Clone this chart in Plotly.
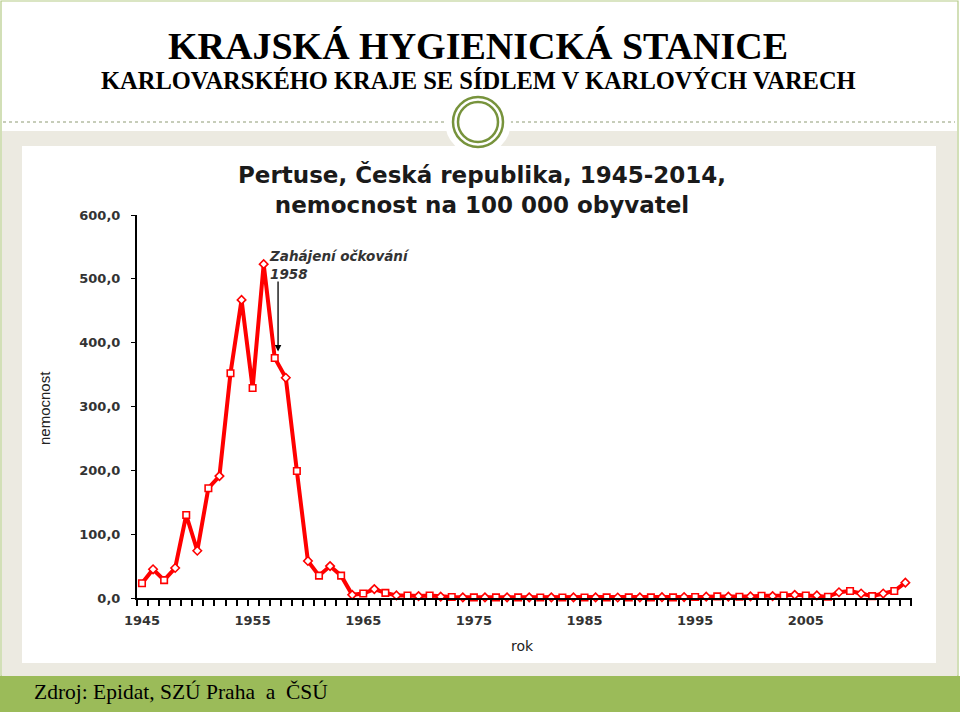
import plotly.graph_objects as go

# Pertuse, Ceska republika - nemocnost na 100 000 obyvatel
years = list(range(1945, 2015))
incidence = [
    23, 45, 28, 47, 130, 74, 172, 191, 352, 467,      # 1945-1954
    329, 523, 376, 345, 199, 58, 35, 50, 35, 5,        # 1955-1964
    7, 14, 8, 4, 4, 3, 4, 2, 1.5, 1,                   # 1965-1974
    1, 1, 1, 1, 1, 1, 0.8, 1, 0.8, 1,                  # 1975-1984
    0.8, 1, 1, 0.8, 1, 1, 1, 1.2, 1, 1.5,              # 1985-1994
    1.5, 2, 2.5, 2, 2, 2.5, 3.5, 3, 4, 5,              # 1995-2004
    4, 4, 2, 9, 11, 7, 3, 7, 11, 24,                   # 2005-2014
]
y_ticks = [0, 100, 200, 300, 400, 500, 600]
x_ticks = [1945, 1955, 1965, 1975, 1985, 1995, 2005]

W, H = 960, 712


def px(x):
    return x / W


def py(y):
    return 1 - y / H


symbols = ["square" if i % 2 == 0 else "diamond" for i in range(len(years))]

fig = go.Figure()
fig.add_trace(go.Scatter(
    x=years, y=incidence, mode="lines+markers",
    line=dict(color="#FF0000", width=4),
    marker=dict(symbol=symbols, size=6.5, color="white",
                line=dict(color="#FF0000", width=1.6)),
    showlegend=False, cliponaxis=False,
))


def box(x0, y0, x1, y1, **kw):
    return dict(type="rect", xref="paper", yref="paper", layer="below",
                x0=px(x0), x1=px(x1), y0=py(y1), y1=py(y0), **kw)


def ring(cx, cy, r, **kw):
    return dict(type="circle", xref="paper", yref="paper", layer="below",
                x0=px(cx - r), x1=px(cx + r), y0=py(cy + r), y1=py(cy - r), **kw)


def hline(x0, x1, y, **kw):
    return dict(type="line", xref="paper", yref="paper", layer="below",
                x0=px(x0), x1=px(x1), y0=py(y), y1=py(y), **kw)


shapes = [
    # top white area with thin green frame
    box(1, 1, 958, 676, line=dict(color="#B5CB88", width=1.2), fillcolor="white"),
    # beige area
    box(2, 131, 957, 676, line=dict(width=0), fillcolor="#ECEAE1"),
    # white picture panel
    box(22, 146, 936, 663, line=dict(width=0), fillcolor="white"),
    # green footer
    box(0, 676, 960, 712, line=dict(width=0), fillcolor="#9BBB59"),
    # dotted separator
    hline(3, 446, 122, line=dict(color="#8E9B74", width=1, dash="dot")),
    hline(510, 955, 122, line=dict(color="#8E9B74", width=1, dash="dot")),
    # circle ornament
    ring(478, 122, 33, line=dict(width=0), fillcolor="white"),
    ring(478, 122, 25, line=dict(color="#77933C", width=2.5), fillcolor="white"),
    ring(478, 122, 20, line=dict(color="#77933C", width=2.5)),
]


def label(text, x, y, size, family, color="black", **kw):
    d = dict(text=text, x=px(x), y=py(y), xref="paper", yref="paper",
             showarrow=False, xanchor="center", yanchor="middle",
             font=dict(family=family, size=size, color=color))
    d.update(kw)
    return d


annotations = [
    label("<b>KRAJSKÁ HYGIENICKÁ STANICE</b>", 478, 46, 38, "Liberation Serif"),
    label("<b>KARLOVARSKÉHO KRAJE SE SÍDLEM V KARLOVÝCH VARECH</b>", 478, 80, 24.5,
          "Liberation Serif"),
    label("<b>Pertuse, Česká republika, 1945-2014,<br>nemocnost na 100 000 obyvatel</b>",
          482, 190, 23, "DejaVu Sans", "#1a1a1a"),
    label("<b><i>Zahájení očkování<br>1958</i></b>", 267, 246, 13.5, "DejaVu Sans", "#333333",
          xanchor="left", yanchor="top", align="left"),
    dict(x=1957.3, y=386, ax=1957.3, ay=498, xref="x", yref="y", axref="x", ayref="y",
         text="", showarrow=True, arrowhead=2, arrowsize=1, arrowwidth=1.3,
         arrowcolor="black"),
    label("nemocnost", 45, 408, 15, "Liberation Sans", "#222222", textangle=-90),
    label("rok", 522, 646, 14, "DejaVu Sans", "#222222"),
    label("Zdroj: Epidat, SZÚ Praha\u00a0\u00a0a\u00a0\u00a0ČSÚ", 32, 692, 21.5,
          "Liberation Serif", xanchor="left"),
]

fig.update_layout(
    width=W, height=H,
    margin=dict(l=0, r=0, t=0, b=0, pad=0, autoexpand=False),
    paper_bgcolor="white", plot_bgcolor="rgba(0,0,0,0)",
    shapes=shapes, annotations=annotations,
    xaxis=dict(
        domain=[px(137), px(912)], range=[1944.55, 2014.6], automargin=False,
        showgrid=False, zeroline=False, showline=True, linecolor="black", linewidth=2,
        tickvals=x_ticks, ticktext=[f"<b>{t}</b>" for t in x_ticks], ticks="",
        ticklabelstandoff=9,
        tickfont=dict(family="DejaVu Sans", size=13, color="#333333"),
        minor=dict(ticks="outside", tick0=1944.55, dtick=1, ticklen=6,
                   tickcolor="black", tickwidth=1.5, showgrid=False),
    ),
    yaxis=dict(
        domain=[py(598), py(215)], range=[0, 600], automargin=False,
        showgrid=False, zeroline=False, showline=True, linecolor="black", linewidth=2,
        tickvals=y_ticks, ticktext=[f"<b>{t:.1f}</b>".replace(".", ",") for t in y_ticks],
        ticks="outside", ticklen=4, tickcolor="black", ticklabelstandoff=8,
        tickfont=dict(family="DejaVu Sans", size=13, color="#333333"),
    ),
)

# the page's default body margin would shift the slide by 8px
fig.write_html("out.html", config={"displayModeBar": False},
               post_script="document.body.style.margin = '0px';")
